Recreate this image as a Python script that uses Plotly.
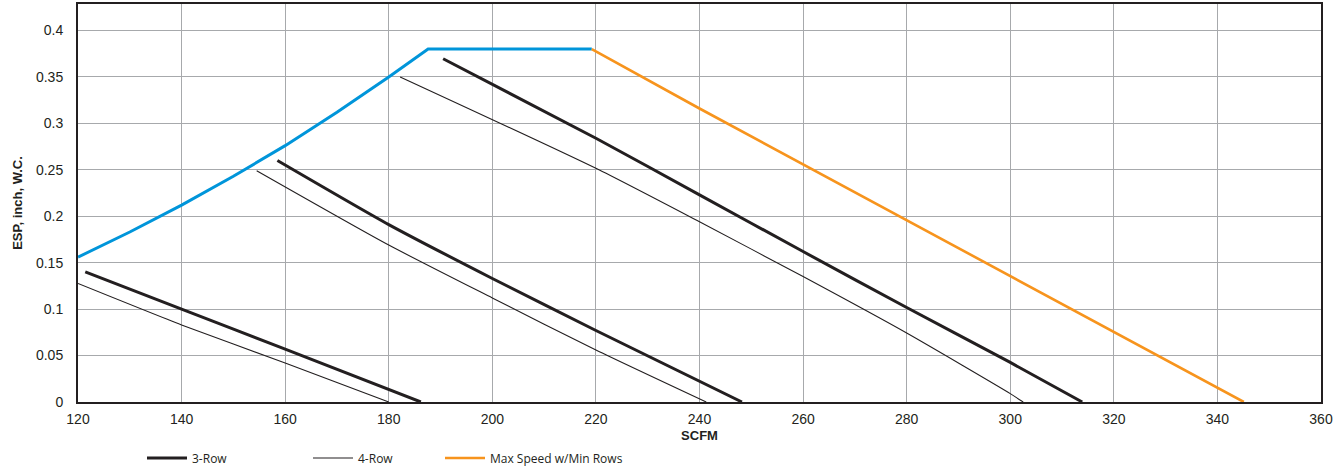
import plotly.graph_objects as go

# ---- data ----
r3_a_x = [121.4, 140, 160, 186.2]
r3_a_y = [0.14, 0.10, 0.057, 0.0]
r4_a_x = [120, 140, 160, 180]
r4_a_y = [0.1276, 0.083, 0.042, 0.0]

r3_b_x = [158.5, 180, 200, 220, 248.2]
r3_b_y = [0.26, 0.191, 0.133, 0.077, 0.0]
r4_b_x = [154.5, 180, 200, 220, 241.3]
r4_b_y = [0.249, 0.169, 0.112, 0.056, 0.0]

r3_c_x = [190.5, 220, 240, 260, 280, 300, 313.9]
r3_c_y = [0.3696, 0.284, 0.223, 0.162, 0.1017, 0.0426, 0.0]
r4_c_x = [182.2, 220, 240, 260, 280, 300, 302.5]
r4_c_y = [0.35, 0.2516, 0.194, 0.135, 0.0742, 0.009, 0.0]

blue_x = [120, 130, 140, 150, 160, 170, 180, 187.6, 219.2]
blue_y = [0.156, 0.183, 0.212, 0.243, 0.276, 0.312, 0.35, 0.38, 0.38]

orange_x = [219.2, 240, 345.1]
orange_y = [0.38, 0.316, 0.0]

x_ticks = [120, 140, 160, 180, 200, 220, 240, 260, 280, 300, 320, 340, 360]
y_ticks = [0, 0.05, 0.1, 0.15, 0.2, 0.25, 0.3, 0.35, 0.4]

BLACK = "#231F20"
BLUE = "#0095DA"
ORANGE = "#F7941D"
GRID = "#A7A9AC"

fig = go.Figure()

fig.add_trace(go.Scatter(x=blue_x, y=blue_y, mode="lines", line=dict(color=BLUE, width=3),
                         showlegend=False, hoverinfo="skip"))
fig.add_trace(go.Scatter(x=orange_x, y=orange_y, mode="lines", line=dict(color=ORANGE, width=2.6),
                         name="Max Speed w/Min Rows", legend="legend3", showlegend=True))

for i, (xs, ys) in enumerate([(r3_a_x, r3_a_y), (r3_b_x, r3_b_y), (r3_c_x, r3_c_y)]):
    fig.add_trace(go.Scatter(x=xs, y=ys, mode="lines",
                             line=dict(color=BLACK, width=3, shape="spline", smoothing=0.6),
                             name="3-Row", legend="legend", legendgroup="r3",
                             showlegend=(i == 0)))
for i, (xs, ys) in enumerate([(r4_a_x, r4_a_y), (r4_b_x, r4_b_y), (r4_c_x, r4_c_y)]):
    fig.add_trace(go.Scatter(x=xs, y=ys, mode="lines",
                             line=dict(color=BLACK, width=1.1, shape="spline", smoothing=0.6),
                             name="4-Row", legend="legend2", legendgroup="r4",
                             showlegend=(i == 0)))

H = 466.0
W = 1333.0
leg_common = dict(xref="container", yref="container", yanchor="middle", xanchor="left",
                  orientation="h", bgcolor="rgba(0,0,0,0)", borderwidth=0,
                  font=dict(family="Open Sans", size=12, color=BLACK), itemwidth=40)
fig.update_layout(
    legend=dict(x=142 / W, y=1 - 458 / H, **leg_common),
    legend2=dict(x=308 / W, y=1 - 458 / H, **leg_common),
    legend3=dict(x=440 / W, y=1 - 458 / H, **leg_common),
)

fig.update_layout(
    width=1333, height=466,
    margin=dict(l=78, r=12, t=4, b=64, autoexpand=False),
    paper_bgcolor="white", plot_bgcolor="white",
    font=dict(family="Liberation Sans, Arial, sans-serif", color=BLACK),
    xaxis=dict(range=[120, 360], tickvals=x_ticks, showgrid=True, gridcolor=GRID, gridwidth=1.2,
               zeroline=False, showline=True, linecolor=BLACK, linewidth=2, mirror=True,
               automargin=False,
               ticks="", tickfont=dict(size=14, color=BLACK), ticklabelstandoff=3,
               title=dict(text="<b>SCFM</b>", font=dict(size=13, color=BLACK), standoff=6)),
    yaxis=dict(range=[0, 0.4285], tickvals=y_ticks, showgrid=True, gridcolor=GRID, gridwidth=1.2,
               zeroline=False, showline=True, linecolor=BLACK, linewidth=2, mirror=True,
               automargin=False,
               ticks="", tickfont=dict(size=14, color=BLACK), ticklabelstandoff=10,
               title=dict(text="<b>ESP, inch, W.C.</b>", font=dict(size=13, color=BLACK), standoff=10)),
)

fig.write_html(
    "out.html",
    config={"displayModeBar": False},
    post_script="document.body.style.margin='0';document.body.style.overflow='hidden';",
)
